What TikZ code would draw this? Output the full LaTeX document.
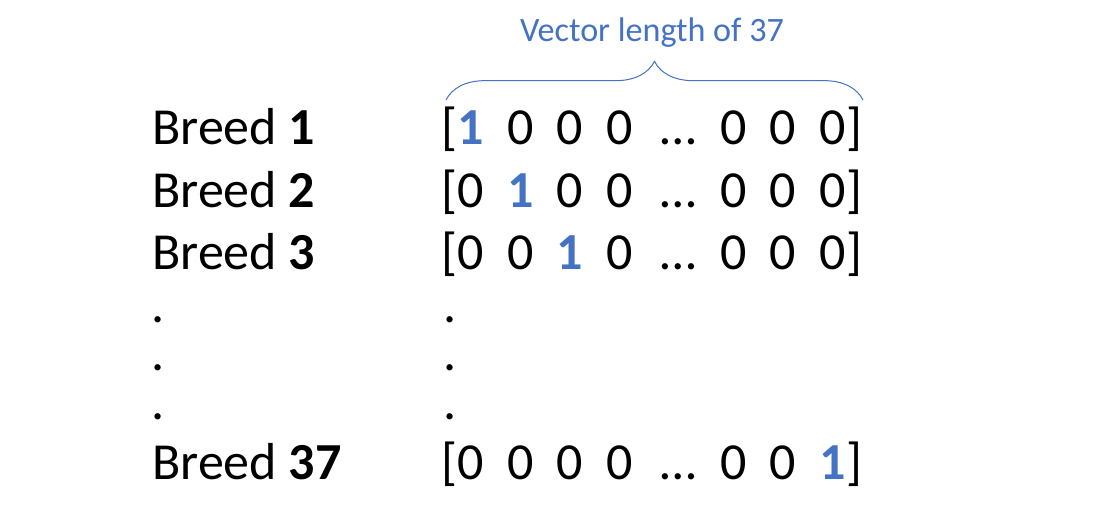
\documentclass[tikz,border=0pt]{standalone}
\usepackage{fontspec}
\setmainfont{Carlito}
\usetikzlibrary{decorations.pathreplacing}
\definecolor{vecblue}{HTML}{4472C4}
\newcommand{\hotone}{\textcolor{vecblue}{\textbf{1}}}
\newcommand{\gap}{~~\hspace{3pt}…~~}

\begin{document}
\begin{tikzpicture}[x=0.75pt, y=-0.75pt,
    every node/.style={inner sep=0, anchor=base west, font=\fontsize{39}{47}\selectfont}]
        \useasboundingbox (0,0) rectangle (1097,509);

        % Razze
        \node (B1) at (152,145) {Breed \textbf{1}};
        \node (B2) at (152,208) {Breed \textbf{2}};
        \node (B3) at (152,270) {Breed \textbf{3}};
        \node (D1) at (151,323) {.};
        \node (D2) at (151,371) {.};
        \node (D3) at (151,420) {.};
        \node (B37) at (152,480) {Breed \textbf{37}};

        % Vettori
        \node (V1) at (441,145) {[\hotone~~0~~0~~0\gap0~~0~~0]};
        \node (V2) at (441,208) {[0~~\hotone~~0~~0\gap0~~0~~0]};
        \node (V3) at (441,270) {[0~~0~~\hotone~~0\gap0~~0~~0]};
        \node (E1) at (443,323) {.};
        \node (E2) at (443,371) {.};
        \node (E3) at (443,420) {.};
        \node (V37) at (441,480) {[0~~0~~0~~0\gap0~~0~~\hotone]};

        % Graffa
        \coordinate (L) at (446,100);
        \coordinate (R) at (863,100);
        \draw[vecblue, line width=0.75pt, decorate, decoration={brace, amplitude=29pt}] (L) -- (R);
        \node[anchor=base, text=vecblue, font=\fontsize{25.6}{31}\selectfont] (T) at (652,42) {Vector length of 37};
    \end{tikzpicture}
\end{document}
